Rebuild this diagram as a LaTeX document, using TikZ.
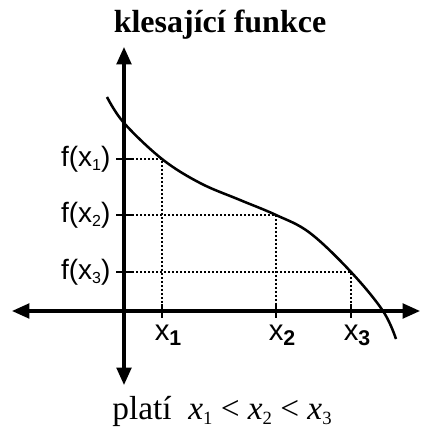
\documentclass[tikz,border=0pt]{standalone}
\usepackage{fontspec}
\setmainfont{Liberation Serif}
\setsansfont{Liberation Sans}
\usetikzlibrary{arrows.meta,positioning}

\newcommand{\lowsub}[2]{\raisebox{-0.3ex}{\fontsize{#1}{#1}\selectfont #2}}
\newcommand{\fval}[1]{f(x\lowsub{12}{#1})}
\newcommand{\xval}[1]{x\lowsub{16}{\bfseries #1}}
\newcommand{\xsub}[1]{\textit{x}\lowsub{14}{#1}}

\tikzset{
  axis/.style={line width=2.3pt, {Triangle[length=13pt,width=11pt]}-{Triangle[length=13pt,width=11pt]}},
  graph/.style={line width=1.9pt},
  guide/.style={line width=0.9pt, dash pattern=on 1.5pt off 1.5pt},
  tick/.style={line width=1pt},
  flabel/.style={font=\sffamily\fontsize{21}{21}\selectfont, inner sep=0pt},
  xlabel/.style={font=\sffamily\fontsize{22}{22}\selectfont, inner sep=0pt},
  title/.style={font=\bfseries\fontsize{24}{24}\selectfont, inner sep=0pt},
  note/.style={font=\fontsize{25}{25}\selectfont, inner sep=0pt},
}

\begin{document}
\begin{tikzpicture}[x=0.75pt, y=0.75pt]
  \useasboundingbox (0,0) rectangle (421,428);

  % Axes
  \coordinate (O)  at (124,117);
  \coordinate (yb) at (124,43);
  \coordinate (yt) at (124,381);
  \coordinate (xl) at (12,117);
  \coordinate (xr) at (420,117);

  % Points on the graph
  \coordinate (p1) at (162,269);
  \coordinate (p2) at (276,213);
  \coordinate (p3) at (351,156);

  % Guide lines
  \foreach \i in {1,2,3} {
    \coordinate (fy\i) at (O |- p\i);
    \coordinate (fx\i) at (p\i |- O);
    \draw[guide] (fy\i) -- (p\i) -- (fx\i);
    \draw[tick] ([xshift=-6pt]fy\i) -- ([xshift=6pt]fy\i);
    \draw[tick] ([yshift=-5pt]fx\i) -- ([yshift=5pt]fx\i);
    \node[flabel, left=10pt of fy\i] (fl\i) {\fval{\i}};
    \node[xlabel, anchor=base west] (xl\i) at ([xshift=-5.6pt, yshift=-22.5pt]fx\i) {\xval{\i}};
  }

  \draw[axis] (xl) -- (xr);
  \draw[axis] (yb) -- (yt);

  % Graph
  \draw[graph] plot[smooth, tension=0.6] coordinates {
    (107,331) (124,305) (p1) (200,245) (240,228) (p2)
    (310,195) (p3) (383,117) (396,89)};

  % Texts
  \node[title] (head) at (220,403) {klesající funkce};
  \node[note, anchor=base] (cond) at (222,8)
    {platí\ \ \xsub{1} < \xsub{2} < \xsub{3}};
\end{tikzpicture}
\end{document}
